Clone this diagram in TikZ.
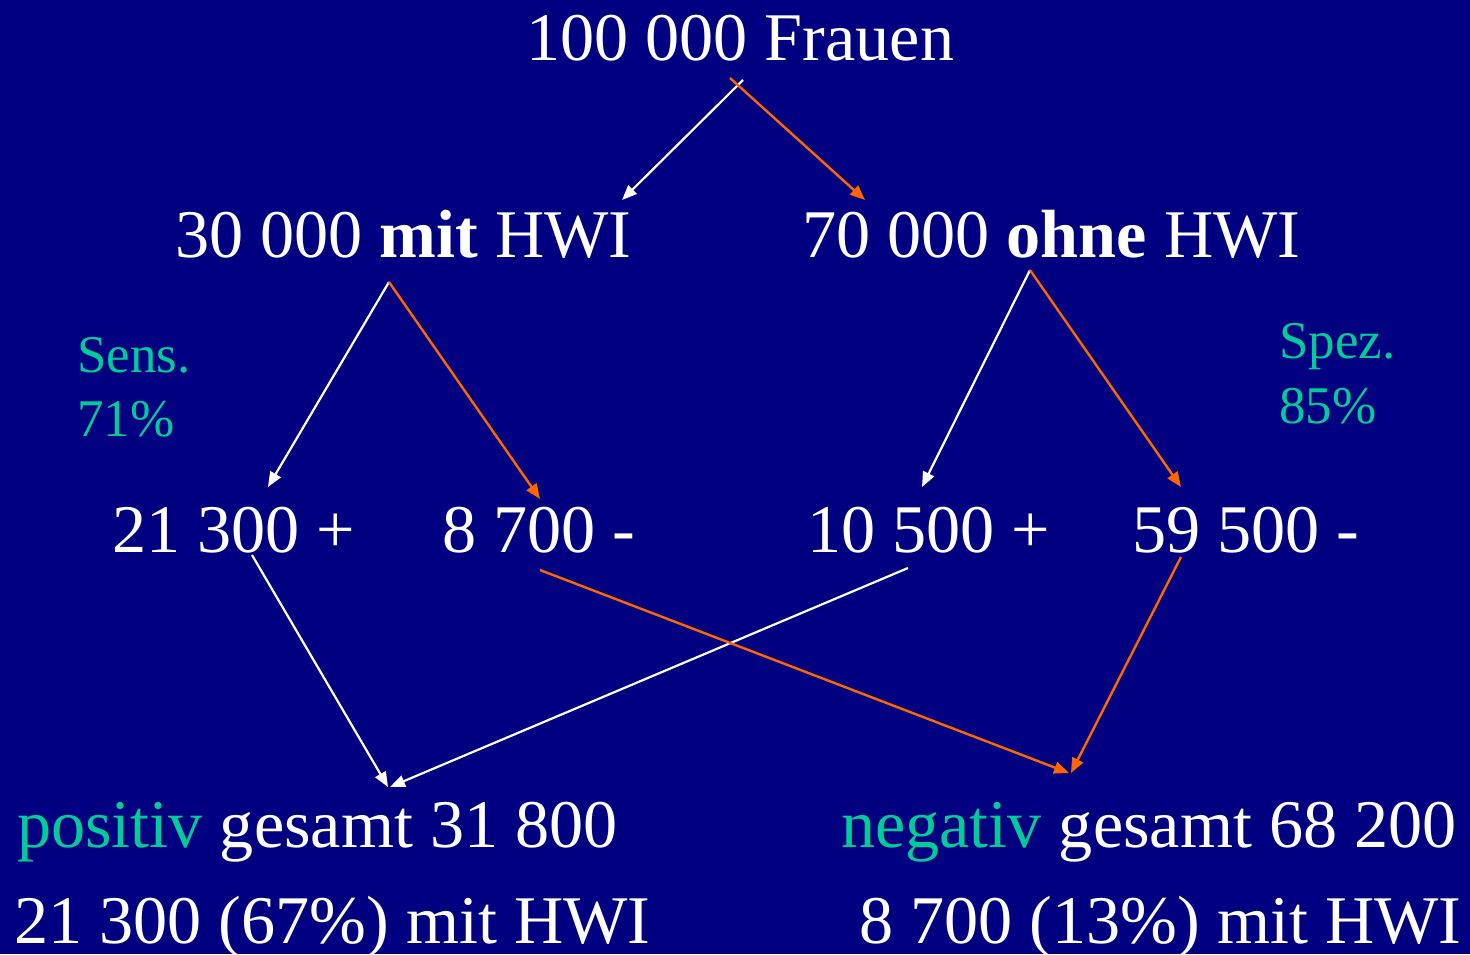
\documentclass[tikz,border=0pt]{standalone}
\usepackage{fontspec}
\setmainfont{Liberation Serif}
\usetikzlibrary{arrows.meta}
\definecolor{bgnavy}{RGB}{0,0,128}
\definecolor{arrorange}{RGB}{255,102,0}
\definecolor{tealtext}{RGB}{0,204,153}
\tikzset{
  txt/.style={anchor=base west, inner sep=0pt, text=white, font=\fontsize{68.2}{80}\selectfont},
  small/.style={anchor=base west, inner sep=0pt, text=tealtext, font=\fontsize{53}{64}\selectfont},
  warr/.style={draw=white, line width=2.2pt, -{Triangle[length=15pt,width=12pt]}},
  oarr/.style={draw=arrorange, line width=2.4pt, -{Triangle[length=15pt,width=12pt]}},
}
\begin{document}
\begin{tikzpicture}[x=1pt,y=-1pt]
\fill[bgnavy] (0,0) rectangle (1470,954);
\useasboundingbox (0,0) rectangle (1470,954);
% texts
\node[txt] (frauen) at (526,60) {100 000 Frauen};
\node[txt] (mit) at (175,257) {30 000 \textbf{mit} HWI};
\node[txt] (ohne) at (802,257) {70 000 \textbf{ohne} HWI};
\node[small] (sens) at (77,372) {Sens.};
\node[small] (sensv) at (77,436) {71\%};
\node[small] (spez) at (1279,358) {Spez.};
\node[small] (spezv) at (1279,423) {85\%};
\node[txt] (rp) at (112,552) {21 300 +};
\node[txt] (fn) at (442,552) {8 700 -};
\node[txt] (fp) at (807,552) {10 500 +};
\node[txt] (rn) at (1132,552) {59 500 -};
\node[txt] (pos) at (17,847) {\textcolor{tealtext}{positiv} gesamt 31 800};
\node[txt] (posd) at (14,943) {21 300 (67\%) mit HWI};
\node[txt] (neg) at (841,847) {\textcolor{tealtext}{negativ} gesamt 68 200};
\node[txt] (negd) at (859,943) {8 700 (13\%) mit HWI};
% connector end points
\coordinate (fw) at (743,80);
\coordinate (fo) at (730,78);
\coordinate (mitin) at (622,200);
\coordinate (ohnein) at (865,200);
\coordinate (mitout) at (389,282);
\coordinate (ohneout) at (1030,270);
\coordinate (rpin) at (268,487);
\coordinate (fnin) at (540,499);
\coordinate (fpin) at (922,487);
\coordinate (rnin) at (1181,487);
\coordinate (rpout) at (252,555);
\coordinate (fpout) at (908,568);
\coordinate (fnout) at (540,570);
\coordinate (rnout) at (1181,557);
\coordinate (posin) at (388,787);
\coordinate (posin2) at (390,787);
\coordinate (negin) at (1069,773);
\coordinate (negin2) at (1071,773);
% connectors
\draw[warr] (fw) -- (mitin);
\draw[oarr] (fo) -- (ohnein);
\draw[warr] (mitout) -- (rpin);
\draw[oarr] (mitout) -- (fnin);
\draw[warr] (ohneout) -- (fpin);
\draw[oarr] (ohneout) -- (rnin);
\draw[warr] (rpout) -- (posin);
\draw[warr] (fpout) -- (posin2);
\draw[oarr] (fnout) -- (negin);
\draw[oarr] (rnout) -- (negin2);
\end{tikzpicture}
\end{document}
